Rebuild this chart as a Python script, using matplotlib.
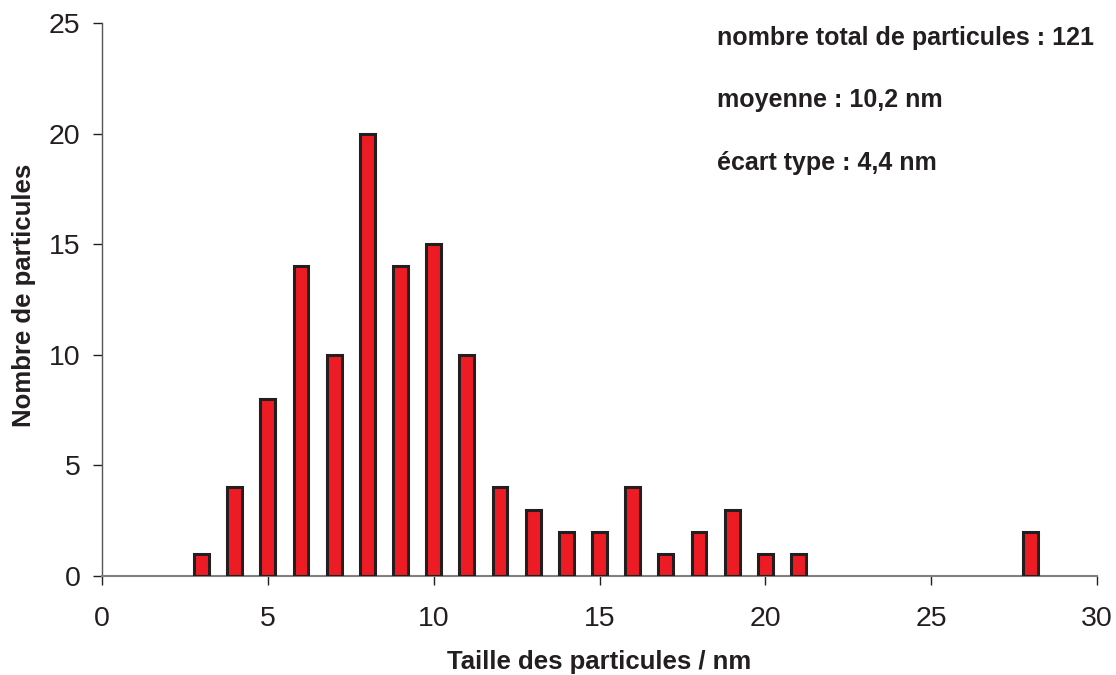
import matplotlib
matplotlib.use("Agg")
import matplotlib.pyplot as plt

sizes = [3, 4, 5, 6, 7, 8, 9, 10, 11, 12, 13, 14, 15, 16, 17, 18, 19, 20, 21, 28]
counts = [1, 4, 8, 14, 10, 20, 14, 15, 10, 4, 3, 2, 2, 4, 1, 2, 3, 1, 1, 2]
xticks = [0, 5, 10, 15, 20, 25, 30]
yticks = [0, 5, 10, 15, 20, 25]
annotations = ["nombre total de particules : 121", "moyenne : 10,2 nm", "écart type : 4,4 nm"]

plt.rcParams['font.family'] = ['Liberation Sans', 'DejaVu Sans']

fig = plt.figure(figsize=(11.16, 6.75), dpi=100)
ax = fig.add_axes([0.0914, 0.1467, 0.8916, 0.8193])

ax.bar(sizes, counts, width=0.45, color='#ED1C24', edgecolor='#231F20', linewidth=2.2, zorder=3)

ax.set_xlim(0, 30)
ax.set_ylim(0, 25)
ax.set_xticks(xticks)
ax.set_yticks(yticks)
ax.tick_params(axis='both', labelsize=20.5, length=6.5, width=1, colors='#231F20', direction='out')
ax.tick_params(axis='x', pad=15)
ax.tick_params(axis='y', pad=9)
for s in ['top', 'right']:
    ax.spines[s].set_visible(False)
ax.spines['left'].set_color('#555555')
ax.spines['bottom'].set_color('#808080')
ax.spines['left'].set_linewidth(1)
ax.spines['bottom'].set_linewidth(1.5)

ax.set_xlabel('Taille des particules / nm', fontsize=18.5, fontweight='bold', color='#231F20')
ax.xaxis.label.set_va('baseline')
ax.xaxis.set_label_coords(0.5, -0.168)
ax.set_ylabel('Nombre de particules', fontsize=18.5, fontweight='bold', color='#231F20')
ax.yaxis.label.set_va('center')
ax.yaxis.set_label_coords(-0.0784, 0.508)

ys = [0.9333, 0.8415, 0.748]
for t, y in zip(annotations, ys):
    fig.text(0.6425, y, t, fontsize=18, fontweight='bold', color='#231F20', va='baseline', ha='left')

fig.savefig('out.png', dpi=100)
